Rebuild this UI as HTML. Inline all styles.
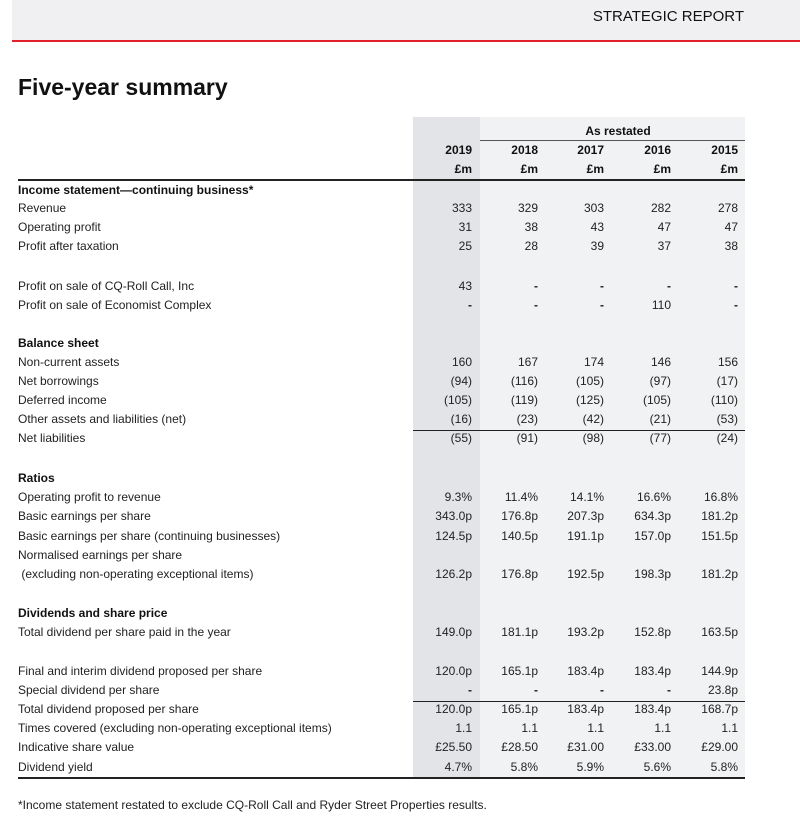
<!DOCTYPE html>
<html><head><meta charset="utf-8"><style>
body{margin:0;width:800px;height:820px;background:#fff;position:relative;font-family:"Liberation Sans",sans-serif;color:#222;overflow:hidden}
.hdr{position:absolute;left:12px;top:0;width:788px;height:40px;background:#f0f0f2;border-bottom:2px solid #e0202a}
.hdr span{position:absolute;right:56px;top:8px;font-size:15px;color:#111}
h1{position:absolute;left:18px;top:74px;margin:0;font-size:23px;font-weight:bold;color:#111}
.sh{position:absolute;top:117px;height:661px}
.r{position:absolute;left:18px;width:727px;height:19px;line-height:19px;font-size:12px}
.r .l{position:absolute;left:0;white-space:nowrap}
.r .v{position:absolute;width:70px;text-align:right}
.b{font-weight:bold;color:#111}
.d{font-weight:bold}
.c1{left:384px}.c2{left:450px}.c3{left:516px}.c4{left:583px}.c5{left:650px}
.ln{position:absolute;background:#222}
</style></head><body>
<div class="hdr"><span>STRATEGIC REPORT</span></div>
<h1>Five-year summary</h1>
<div class="sh" style="left:413px;width:67px;background:#e3e4e8"></div>
<div class="sh" style="left:480px;width:265px;background:#f1f2f4"></div>
<div class="r b" style="top:122px"><span class="v" style="left:550px;width:100px;text-align:center">As restated</span></div>
<div class="ln" style="left:480px;top:140px;width:265px;height:1px;background:#555"></div>
<div class="r b" style="top:141px"><span class="v c1">2019</span><span class="v c2">2018</span><span class="v c3">2017</span><span class="v c4">2016</span><span class="v c5">2015</span></div>
<div class="r b" style="top:160px"><span class="v c1">£m</span><span class="v c2">£m</span><span class="v c3">£m</span><span class="v c4">£m</span><span class="v c5">£m</span></div>
<div class="ln" style="left:18px;top:179px;width:727px;height:2px"></div>

<div class="r b" style="top:181px"><span class="l">Income statement—continuing business*</span></div>
<div class="r" style="top:199px"><span class="l">Revenue</span><span class="v c1">333</span><span class="v c2">329</span><span class="v c3">303</span><span class="v c4">282</span><span class="v c5">278</span></div>
<div class="r" style="top:218px"><span class="l">Operating profit</span><span class="v c1">31</span><span class="v c2">38</span><span class="v c3">43</span><span class="v c4">47</span><span class="v c5">47</span></div>
<div class="r" style="top:237px"><span class="l">Profit after taxation</span><span class="v c1">25</span><span class="v c2">28</span><span class="v c3">39</span><span class="v c4">37</span><span class="v c5">38</span></div>
<div class="r" style="top:277px"><span class="l">Profit on sale of CQ-Roll Call, Inc</span><span class="v c1">43</span><span class="v c2 d">-</span><span class="v c3 d">-</span><span class="v c4 d">-</span><span class="v c5 d">-</span></div>
<div class="r" style="top:296px"><span class="l">Profit on sale of Economist Complex</span><span class="v c1 d">-</span><span class="v c2 d">-</span><span class="v c3 d">-</span><span class="v c4">110</span><span class="v c5 d">-</span></div>

<div class="r b" style="top:334px"><span class="l">Balance sheet</span></div>
<div class="r" style="top:353px"><span class="l">Non-current assets</span><span class="v c1">160</span><span class="v c2">167</span><span class="v c3">174</span><span class="v c4">146</span><span class="v c5">156</span></div>
<div class="r" style="top:372px"><span class="l">Net borrowings</span><span class="v c1">(94)</span><span class="v c2">(116)</span><span class="v c3">(105)</span><span class="v c4">(97)</span><span class="v c5">(17)</span></div>
<div class="r" style="top:391px"><span class="l">Deferred income</span><span class="v c1">(105)</span><span class="v c2">(119)</span><span class="v c3">(125)</span><span class="v c4">(105)</span><span class="v c5">(110)</span></div>
<div class="r" style="top:410px"><span class="l">Other assets and liabilities (net)</span><span class="v c1">(16)</span><span class="v c2">(23)</span><span class="v c3">(42)</span><span class="v c4">(21)</span><span class="v c5">(53)</span></div>
<div class="ln" style="left:413px;top:430px;width:332px;height:1px"></div>
<div class="r" style="top:429px"><span class="l">Net liabilities</span><span class="v c1">(55)</span><span class="v c2">(91)</span><span class="v c3">(98)</span><span class="v c4">(77)</span><span class="v c5">(24)</span></div>

<div class="r b" style="top:469px"><span class="l">Ratios</span></div>
<div class="r" style="top:488px"><span class="l">Operating profit to revenue</span><span class="v c1">9.3%</span><span class="v c2">11.4%</span><span class="v c3">14.1%</span><span class="v c4">16.6%</span><span class="v c5">16.8%</span></div>
<div class="r" style="top:507px"><span class="l">Basic earnings per share</span><span class="v c1">343.0p</span><span class="v c2">176.8p</span><span class="v c3">207.3p</span><span class="v c4">634.3p</span><span class="v c5">181.2p</span></div>
<div class="r" style="top:527px"><span class="l">Basic earnings per share (continuing businesses)</span><span class="v c1">124.5p</span><span class="v c2">140.5p</span><span class="v c3">191.1p</span><span class="v c4">157.0p</span><span class="v c5">151.5p</span></div>
<div class="r" style="top:546px"><span class="l">Normalised earnings per share</span></div>
<div class="r" style="top:565px"><span class="l">&nbsp;(excluding non-operating exceptional items)</span><span class="v c1">126.2p</span><span class="v c2">176.8p</span><span class="v c3">192.5p</span><span class="v c4">198.3p</span><span class="v c5">181.2p</span></div>

<div class="r b" style="top:604px"><span class="l">Dividends and share price</span></div>
<div class="r" style="top:623px"><span class="l">Total dividend per share paid in the year</span><span class="v c1">149.0p</span><span class="v c2">181.1p</span><span class="v c3">193.2p</span><span class="v c4">152.8p</span><span class="v c5">163.5p</span></div>
<div class="r" style="top:662px"><span class="l">Final and interim dividend proposed per share</span><span class="v c1">120.0p</span><span class="v c2">165.1p</span><span class="v c3">183.4p</span><span class="v c4">183.4p</span><span class="v c5">144.9p</span></div>
<div class="r" style="top:681px"><span class="l">Special dividend per share</span><span class="v c1 d">-</span><span class="v c2 d">-</span><span class="v c3 d">-</span><span class="v c4 d">-</span><span class="v c5">23.8p</span></div>
<div class="ln" style="left:413px;top:701px;width:332px;height:1px"></div>
<div class="r" style="top:700px"><span class="l">Total dividend proposed per share</span><span class="v c1">120.0p</span><span class="v c2">165.1p</span><span class="v c3">183.4p</span><span class="v c4">183.4p</span><span class="v c5">168.7p</span></div>
<div class="r" style="top:719px"><span class="l">Times covered (excluding non-operating exceptional items)</span><span class="v c1">1.1</span><span class="v c2">1.1</span><span class="v c3">1.1</span><span class="v c4">1.1</span><span class="v c5">1.1</span></div>
<div class="r" style="top:738px"><span class="l">Indicative share value</span><span class="v c1">£25.50</span><span class="v c2">£28.50</span><span class="v c3">£31.00</span><span class="v c4">£33.00</span><span class="v c5">£29.00</span></div>
<div class="r" style="top:758px"><span class="l">Dividend yield</span><span class="v c1">4.7%</span><span class="v c2">5.8%</span><span class="v c3">5.9%</span><span class="v c4">5.6%</span><span class="v c5">5.8%</span></div>
<div class="ln" style="left:18px;top:777px;width:727px;height:2px"></div>
<div class="r" style="top:796px"><span class="l">*Income statement restated to exclude CQ-Roll Call and Ryder Street Properties results.</span></div>
</body></html>
